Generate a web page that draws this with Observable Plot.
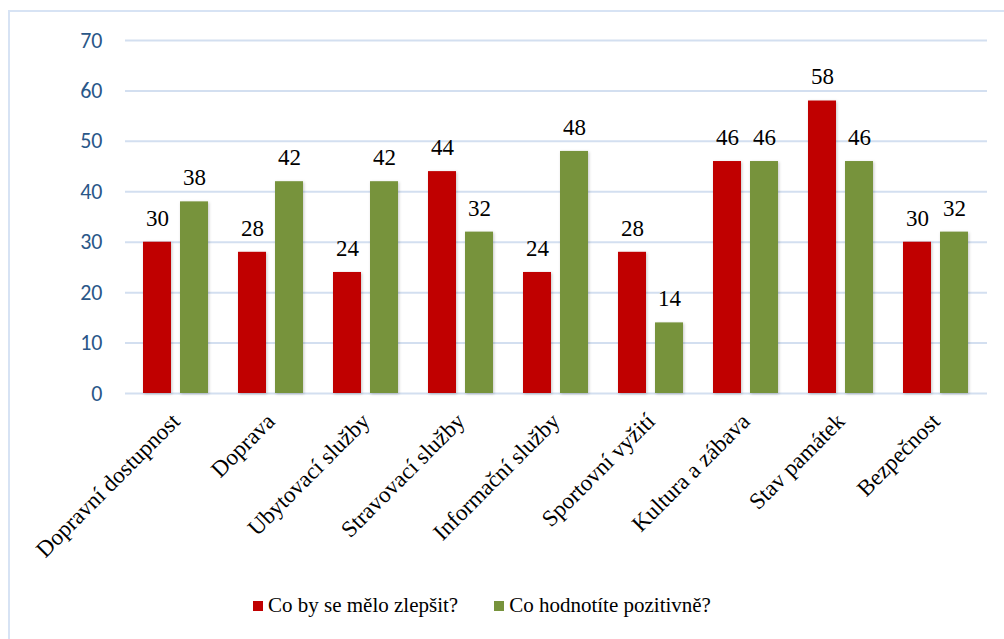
<!DOCTYPE html>
<html lang="cs">
<head>
<meta charset="utf-8">
<script src="https://cdn.jsdelivr.net/npm/d3@7"></script>
<script src="https://cdn.jsdelivr.net/npm/@observablehq/plot@0.6"></script>
<style>
  html, body { margin: 0; padding: 0; background: #fff; overflow: hidden; }
  #wrap { position: relative; width: 1004px; height: 639px; }
  #frame { position: absolute; left: 8px; top: 10px; width: 1100px; height: 700px; border: 2px solid #D7E3F4; box-sizing: border-box; pointer-events: none; }
  #chart svg { display: block; }
  #chart svg .serif text { font-family: "Times New Roman", "Liberation Serif", Tinos, serif !important; }
  #chart svg .ticky text { font-family: Carlito, Calibri, sans-serif !important; }
  #legend { position: absolute; left: 253px; top: 593px; display: flex; align-items: center; font-family: "Times New Roman", "Liberation Serif", Tinos, serif !important; font-size: 21px; color: #000; }
  .item { display: flex; align-items: center; }
  .sw { width: 10px; height: 10px; margin-right: 5px; }
  .bars { filter: drop-shadow(1.5px 1px 1.5px rgba(0,0,0,0.22)); }
</style>
</head>
<body>
<div id="wrap">
  <div id="frame"></div>
  <div id="chart"></div>
  <div id="legend"></div>
</div>
<script>
const categories = ["Dopravní dostupnost", "Doprava", "Ubytovací služby", "Stravovací služby", "Informační služby", "Sportovní vyžití", "Kultura a zábava", "Stav památek", "Bezpečnost"];
const seriesNames = ["Co by se mělo zlepšit?", "Co hodnotíte pozitivně?"];
const improve = [30, 28, 24, 44, 24, 28, 46, 58, 30];
const positive = [38, 42, 42, 32, 48, 14, 46, 46, 32];
const colors = ["#C00000", "#77933C"];
const yTicks = [0, 10, 20, 30, 40, 50, 60, 70];

const improveData = categories.map((c, i) => ({category: c, value: improve[i]}));
const positiveData = categories.map((c, i) => ({category: c, value: positive[i]}));

const serif = "Times New Roman";
const barGap = 37; // inset that leaves room for the neighbouring bar
const labelShift = 18.5;

const chart = Plot.plot({
  width: 1004,
  height: 590,
  marginLeft: 125,
  marginRight: 17,
  marginTop: 40,
  marginBottom: 197,
  style: {background: "transparent", overflow: "visible"},
  x: {domain: categories, paddingInner: 0.3125, paddingOuter: 0.15625, label: null},
  y: {domain: [0, 70], label: null},
  marks: [
    Plot.gridY(yTicks, {stroke: "#D3DFF0", strokeOpacity: 1, strokeWidth: 2}),
    Plot.barY(improveData, {x: "category", y: "value", fill: colors[0], insetRight: barGap, className: "bars"}),
    Plot.barY(positiveData, {x: "category", y: "value", fill: colors[1], insetLeft: barGap, className: "bars"}),
    Plot.text(improveData, {x: "category", y: "value", text: d => String(d.value), dx: -labelShift, dy: -24, lineAnchor: "middle", fontSize: 23, fontFamily: serif, fill: "#000", className: "serif"}),
    Plot.text(positiveData, {x: "category", y: "value", text: d => String(d.value), dx: labelShift, dy: -24, lineAnchor: "middle", fontSize: 23, fontFamily: serif, fill: "#000", className: "serif"}),
    Plot.axisY(yTicks, {tickSize: 0, tickPadding: 23, fontSize: 22, fontFamily: "Carlito", color: "#2A5788", label: null, className: "ticky"}),
    Plot.axisX({tickSize: 0, tickPadding: 24, tickRotate: -45, textAnchor: "end", fontSize: 23, fontFamily: serif, color: "#000", label: null, className: "serif"})
  ]
});
document.getElementById("chart").appendChild(chart);

const legend = document.getElementById("legend");
seriesNames.forEach((s, i) => {
  const item = document.createElement("div");
  item.className = "item";
  if (i > 0) item.style.marginLeft = "36px";
  const sw = document.createElement("div");
  sw.className = "sw";
  sw.style.background = colors[i];
  const t = document.createElement("span");
  t.textContent = s;
  item.appendChild(sw);
  item.appendChild(t);
  legend.appendChild(item);
});
</script>
</body>
</html>
